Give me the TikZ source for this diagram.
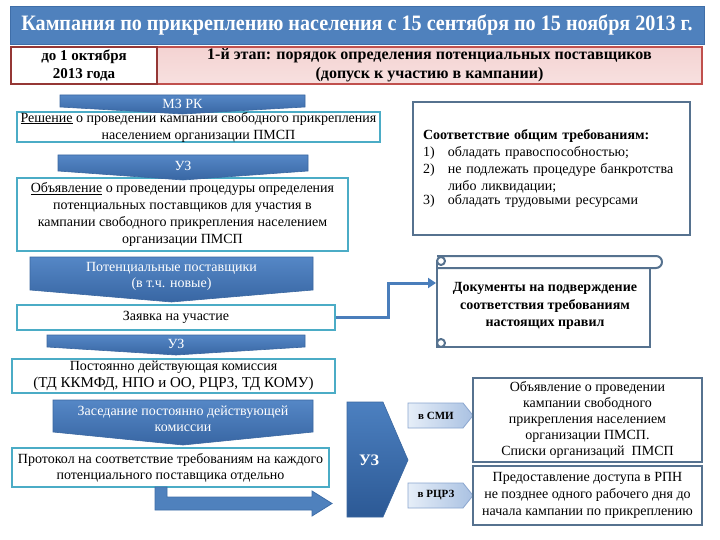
\documentclass[tikz,border=0pt]{standalone}
\usepackage{fontspec}
\setmainfont{Liberation Serif}
\usetikzlibrary{arrows.meta,calc}
\definecolor{tbar}{HTML}{4F81BD}
\definecolor{tbarline}{HTML}{3F6EA8}
\definecolor{dred}{HTML}{953735}
\definecolor{pinkfill}{HTML}{F4D3D2}
\definecolor{pinkline}{HTML}{C0504D}
\definecolor{boxteal}{HTML}{4BACC6}
\definecolor{boxgray}{HTML}{56728F}
\definecolor{chevtop}{HTML}{5587C6}
\definecolor{chevbot}{HTML}{3866A3}
\definecolor{chevline}{HTML}{3A67A0}
\definecolor{pentl}{HTML}{E6EEF8}
\definecolor{pentr}{HTML}{A9C1E2}
\definecolor{pentline}{HTML}{8AA6CF}
\definecolor{connblue}{HTML}{4A7EBB}
\definecolor{bigtop}{HTML}{4C80C0}
\definecolor{bigbot}{HTML}{2C5995}
\newcommand\mychev[7]{%
  \path[chevfill] (#2,#4) -- (#3,#4) -- (#3,#5) -- ({(#2+#3)/2},#6) -- (#2,#5) -- cycle;
  \node[chevtext] (#1) at ({(#2+#3)/2},{(#4+#5)/2+3}) {#7};}
\begin{document}
\begin{tikzpicture}[x=1pt,y=-1pt,
  tbox/.style={draw=boxteal, line width=2.2pt, fill=white, inner sep=0pt, align=center, font=\fontsize{14}{17}\selectfont},
  gbox/.style={draw=boxgray, line width=2.2pt, fill=white, inner sep=0pt, align=center, font=\fontsize{14}{16.5}\selectfont},
  chevfill/.style={top color=chevtop, bottom color=chevbot, draw=chevline, line width=0.6pt},
  chevtext/.style={text=white, font=\fontsize{14}{16}\selectfont, align=center, inner sep=0pt},
  pent/.style={left color=pentl, right color=pentr, draw=pentline, line width=0.8pt},
  pentxt/.style={font=\fontsize{11}{13}\selectfont\bfseries, inner sep=0pt},
  scrl/.style={draw=boxgray, line width=2pt, fill=white, line join=round},
  conn/.style={draw=connblue, line width=3pt, -{Triangle[length=8pt,width=10pt]}}
]
\useasboundingbox (0,0) rectangle (720,540);
\fill[white] (0,0) rectangle (720,540);

% title
\node[fill=tbar, draw=tbarline, line width=0.8pt, minimum width=694pt, minimum height=38pt, inner sep=0pt, text=white, font=\fontsize{22}{26}\selectfont\bfseries] (title) at (357,25)
  {\scalebox{0.915}[1]{Кампания по прикреплению населения с 15 сентября по 15 ноября 2013 г.}};

% stage row
\node[draw=pinkline, line width=1.5pt, top color=pinkfill, bottom color=pinkfill!70!white, minimum width=545pt, minimum height=37pt, inner sep=0pt, align=center, font=\fontsize{16}{19}\selectfont\bfseries] (stage) at (429.5,65.5)
  {1-й этап: порядок определения потенциальных поставщиков\\(допуск к участию в кампании)};
\node[draw=dred, line width=2pt, fill=white, minimum width=146pt, minimum height=37pt, inner sep=0pt, align=center, font=\fontsize{15}{18}\selectfont\bfseries] (date) at (84,65.5)
  {до 1 октября\\2013 года};

% left column boxes
\node[tbox, minimum width=363pt, minimum height=30pt] (resh) at (198.5,127)
  {\underline{Решение} о проведении кампании свободного прикрепления\\населением организации ПМСП};
\node[tbox, minimum width=331pt, minimum height=73pt] (obyav) at (182.5,214.5)
  {\underline{Объявление} о проведении процедуры определения\\потенциальных поставщиков для участия в\\кампании свободного прикрепления населением\\организации ПМСП};
\node[tbox, minimum width=318pt, minimum height=25pt] (zayav) at (176,317.5)
  {Заявка на участие};
\node[tbox, minimum width=323pt, minimum height=34pt, font=\fontsize{14}{16.5}\selectfont] (post) at (173.5,376)
  {Постоянно действующая комиссия\\{\fontsize{15}{16}\selectfont(ТД ККМФД, НПО и ОО, РЦРЗ, ТД КОМУ)}};
\node[tbox, minimum width=317pt, minimum height=39pt, font=\fontsize{14}{16}\selectfont] (prot) at (170.5,467.5)
  {Протокол на соответствие требованиям на каждого\\потенциального поставщика отдельно};

% chevrons
\mychev{mz}{60}{305}{95}{107}{114}{МЗ РК}
\mychev{uz1}{58}{308}{155}{171}{180}{УЗ}
\mychev{potn}{30}{313}{257}{290}{302}{Потенциальные поставщики\\(в т.ч. новые)}
\mychev{uz2}{47}{305}{335}{347}{355}{УЗ}
\mychev{zased}{53}{313}{400}{432}{445}{Заседание постоянно действующей\\комиссии}

% requirements box
\node[gbox, minimum width=277pt, minimum height=133pt, text width=257pt, align=left, font=\fontsize{14}{17}\selectfont] (req) at (551.5,168.5)
  {\textbf{Соответствие общим требованиям:}\\
   \makebox[25pt][l]{1)}обладать правоспособностью;\\
   \makebox[25pt][l]{2)}\parbox[t]{232pt}{не подлежать процедуре банкротства либо ликвидации;}\\
   \makebox[25pt][l]{3)}обладать трудовыми ресурсами};

% scroll
\path[scrl] (437,262) -- (437,347) -- (650,347) -- (650,262);
\draw[scrl, rounded corners=6pt] (437,256) -- (662,256) -- (662,268) -- (437,268);
\draw[scrl] (441,261) circle (4pt);
\draw[scrl] (441,343) circle (4pt);
\draw[boxgray, line width=2pt] (437,262) -- (437,347) -- (650,347) -- (650,268);
\node[align=center, inner sep=0pt, font=\fontsize{14}{17.5}\selectfont\bfseries] (docs) at (545,306)
  {Документы на подверждение\\соответствия требованиям\\настоящих правил};
\coordinate (docin) at (436,283);
\coordinate (bend) at (388,0);
\draw[conn] (zayav.east) -| (bend |- docin) -- (docin);

% bent block arrow from protocol
\path[fill=tbar, draw=tbarline, line width=0.8pt]
  (155,487) -- (155,510) -- (312,510) -- (312,516) -- (332,503.5) -- (312,491) -- (312,497) -- (167,497) -- (167,487) -- cycle;

% big UZ chevron
\path[top color=bigtop, bottom color=bigbot, draw=chevline, line width=0.6pt]
  (347,402) -- (383,402) -- (408,460) -- (383,517) -- (347,517) -- cycle;
\node[text=white, font=\fontsize{16}{18}\selectfont\bfseries, inner sep=0pt] (uzbig) at (369,460) {УЗ};

% small pentagons
\path[pent] (408,403) -- (463,403) -- (473,415.5) -- (463,428) -- (408,428) -- cycle;
\node[pentxt] (smi) at (436,415.5) {в СМИ};
\path[pent] (408,483) -- (463,483) -- (473,495.5) -- (463,508) -- (408,508) -- cycle;
\node[pentxt] (rcrz) at (436,495.5) {в РЦРЗ};

% right bottom boxes
\node[gbox, minimum width=229pt, minimum height=84pt, font=\fontsize{14}{16}\selectfont] (annc) at (587.5,420)
  {Объявление о проведении\\кампании свободного\\прикрепления населением\\организации ПМСП.\\Списки организаций~~ПМСП};
\node[gbox, minimum width=229pt, minimum height=59pt, font=\fontsize{14}{17}\selectfont] (access) at (587.5,495.5)
  {Предоставление доступа в РПН\\не позднее одного рабочего дня до\\начала кампании по прикреплению};
\end{tikzpicture}
\end{document}
